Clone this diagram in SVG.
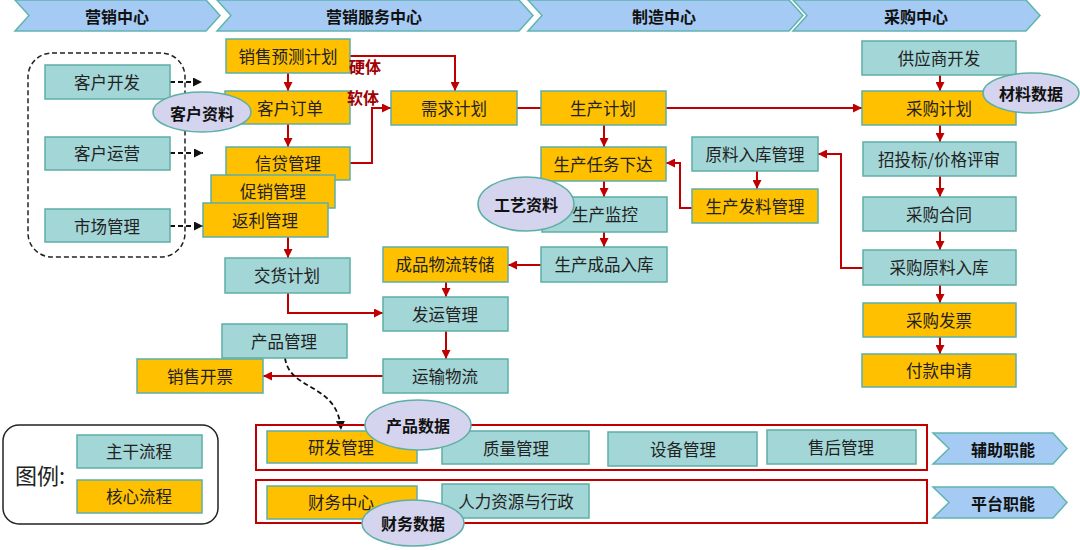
<svg xmlns="http://www.w3.org/2000/svg" width="1080" height="550" viewBox="0 0 1080 550">
<defs>
<style>
text{font-family:"Noto Sans CJK SC","Noto Sans",sans-serif;fill:#222;text-anchor:middle;dominant-baseline:central}
.t{fill:#A3D6D7;stroke:#5EAFA6;stroke-width:1.5}
.o{fill:#FFC000;stroke:#5EAFA6;stroke-width:1.5}
.lbl{font-size:16.5px}
.hd{fill:#A5CBF4;stroke:#5FB4B0;stroke-width:1.5}
.hdt{font-size:16px;font-weight:bold;fill:#111}
.el{fill:#D4D4EF;stroke:#5EAFA6;stroke-width:1.5}
.elt{font-size:16px;font-weight:bold;fill:#111}
.r{fill:none;stroke:#C00000;stroke-width:2}
.ra{fill:none;stroke:#C00000;stroke-width:2;marker-end:url(#ah)}
.da{fill:none;stroke:#111;stroke-width:1.8;stroke-dasharray:5,3;marker-end:url(#bh)}
.rb{fill:none;stroke:#C00000;stroke-width:2}
.sw{font-size:16px;font-weight:bold;fill:#A00000}
</style>
<marker id="ah" viewBox="0 0 10 10" refX="10" refY="5" markerWidth="9" markerHeight="9" markerUnits="userSpaceOnUse" orient="auto"><path d="M0,0L10,5L0,10z" fill="#C00000"/></marker>
<marker id="bh" viewBox="0 0 10 10" refX="10" refY="5" markerWidth="9" markerHeight="9" markerUnits="userSpaceOnUse" orient="auto"><path d="M0,0L10,5L0,10z" fill="#111"/></marker>
</defs>
<rect width="1080" height="550" fill="#fff"/>

<g id="headers">
<polygon class="hd" points="15,0 206,0 220,15.5 206,31 15,31 29,15.5"/>
<text class="hdt" x="117" y="15.5">营销中心</text>
<polygon class="hd" points="217,0 519,0 533,15.5 519,31 217,31 231,15.5"/>
<text class="hdt" x="374" y="15.5">营销服务中心</text>
<polygon class="hd" points="528,0 789,0 803,15.5 789,31 528,31 542,15.5"/>
<text class="hdt" x="664" y="15.5">制造中心</text>
<polygon class="hd" points="793,0 1026,0 1040,15.5 1026,31 793,31 807,15.5"/>
<text class="hdt" x="916" y="15.5">采购中心</text>
</g>

<g id="market-group"><rect x="28" y="53" width="157" height="204" rx="24" fill="none" stroke="#222" stroke-width="1.5" stroke-dasharray="5,3"/></g>

<g id="connectors">
<path class="ra" d="M288 73V91"/>
<path class="ra" d="M350 56H455V91"/>
<path class="ra" d="M350 163H372V108H391"/>
<path class="ra" d="M288 124V147"/>
<path class="ra" d="M288 237V258"/>
<path class="ra" d="M288 293V313H383"/>
<path class="ra" d="M446 282V297"/>
<path class="ra" d="M446 331V359"/>
<path class="ra" d="M383 376H263"/>
<path class="r" d="M517 108H541"/>
<path class="ra" d="M666 108H862"/>
<path class="ra" d="M604 125V147"/>
<path class="ra" d="M604 181V197"/>
<path class="ra" d="M604 232V247"/>
<path class="ra" d="M541 265H508"/>
<path class="ra" d="M757 171V189"/>
<path class="ra" d="M692 208H680V163H666"/>
<path class="ra" d="M863 268H841V154H818"/>
<path class="ra" d="M940 75V91"/>
<path class="ra" d="M940 125V142"/>
<path class="ra" d="M940 176V197"/>
<path class="ra" d="M940 231V250"/>
<path class="ra" d="M940 285V303"/>
<path class="ra" d="M940 337V354"/>
<path class="da" d="M170 82H202"/>
<path class="da" d="M170 153H203"/>
<path class="da" d="M170 226H203"/>
<path class="da" d="M285 358C290 392 338 382 341 430"/>
</g>

<g id="n-khkf"><rect class="t" x="45" y="65" width="125" height="34"/><text class="lbl" x="107" y="82">客户开发</text></g>
<g id="n-khyy"><rect class="t" x="45" y="137" width="125" height="33"/><text class="lbl" x="107" y="153">客户运营</text></g>
<g id="n-scgl"><rect class="t" x="45" y="209" width="125" height="33"/><text class="lbl" x="107" y="226">市场管理</text></g>

<g id="n-xsyc"><rect class="o" x="226" y="39" width="124" height="34"/><text class="lbl" x="288" y="56">销售预测计划</text></g>
<g id="n-khdd"><rect class="o" x="225" y="91" width="125" height="33"/><text class="lbl" x="290" y="108">客户订单</text></g>
<g id="n-xdgl"><rect class="o" x="226" y="147" width="124" height="33"/><text class="lbl" x="288" y="163">信贷管理</text></g>
<g id="n-cxgl"><rect class="o" x="211" y="175" width="124" height="33"/><text class="lbl" x="273" y="191">促销管理</text></g>
<g id="n-flgl"><rect class="o" x="203" y="203" width="125" height="34"/><text class="lbl" x="265" y="220">返利管理</text></g>
<g id="n-jhjh"><rect class="t" x="225" y="258" width="125" height="35"/><text class="lbl" x="287" y="275">交货计划</text></g>
<g id="n-cpgl"><rect class="t" x="222" y="324" width="125" height="34"/><text class="lbl" x="284" y="341">产品管理</text></g>
<g id="n-xskp"><rect class="o" x="137" y="359" width="126" height="34"/><text class="lbl" x="200" y="376">销售开票</text></g>
<g id="n-xqjh"><rect class="o" x="391" y="91" width="126" height="34"/><text class="lbl" x="454" y="108">需求计划</text></g>
<g id="n-cpwl"><rect class="o" x="383" y="247" width="125" height="35"/><text class="lbl" x="445" y="264">成品物流转储</text></g>
<g id="n-fygl"><rect class="t" x="383" y="297" width="125" height="34"/><text class="lbl" x="445" y="314">发运管理</text></g>
<g id="n-yswl"><rect class="t" x="383" y="359" width="125" height="34"/><text class="lbl" x="445" y="376">运输物流</text></g>

<g id="n-scjh"><rect class="o" x="541" y="91" width="125" height="34"/><text class="lbl" x="603" y="108">生产计划</text></g>
<g id="n-scrw"><rect class="o" x="541" y="147" width="125" height="34"/><text class="lbl" x="603" y="164">生产任务下达</text></g>
<g id="n-scjk"><rect class="t" x="542" y="197" width="125" height="35"/><text class="lbl" x="605" y="214">生产监控</text></g>
<g id="n-sccp"><rect class="t" x="541" y="247" width="126" height="35"/><text class="lbl" x="604" y="264">生产成品入库</text></g>
<g id="n-ylrk"><rect class="t" x="692" y="137" width="126" height="34"/><text class="lbl" x="755" y="154">原料入库管理</text></g>
<g id="n-scfl"><rect class="o" x="692" y="189" width="126" height="34"/><text class="lbl" x="755" y="206">生产发料管理</text></g>

<g id="n-gyskf"><rect class="t" x="862" y="41" width="154" height="34"/><text class="lbl" x="939" y="58">供应商开发</text></g>
<g id="n-cgjh"><rect class="o" x="862" y="91" width="154" height="34"/><text class="lbl" x="939" y="108">采购计划</text></g>
<g id="n-ztb"><rect class="t" x="863" y="142" width="153" height="34"/><text class="lbl" x="939" y="159">招投标/价格评审</text></g>
<g id="n-cght"><rect class="t" x="863" y="197" width="153" height="34"/><text class="lbl" x="939" y="214">采购合同</text></g>
<g id="n-cgyl"><rect class="t" x="863" y="250" width="153" height="35"/><text class="lbl" x="939" y="267">采购原料入库</text></g>
<g id="n-cgfp"><rect class="o" x="863" y="303" width="153" height="34"/><text class="lbl" x="939" y="320">采购发票</text></g>
<g id="n-fksq"><rect class="o" x="862" y="354" width="154" height="33"/><text class="lbl" x="939" y="370">付款申请</text></g>

<g id="edge-labels">
<text class="sw" x="365" y="66">硬体</text>
<text class="sw" x="363" y="97">软体</text>
</g>

<g id="support">
<rect class="rb" x="256" y="425" width="671" height="45"/>
<rect class="rb" x="256" y="480" width="671" height="43"/>
</g>
<g id="n-yfgl"><rect class="o" x="267" y="431" width="150" height="32"/><text class="lbl" x="341" y="447">研发管理</text></g>
<g id="n-zlgl"><rect class="t" x="442" y="431" width="147" height="33"/><text class="lbl" x="516" y="448">质量管理</text></g>
<g id="n-sbgl"><rect class="t" x="608" y="432" width="149" height="34"/><text class="lbl" x="683" y="449">设备管理</text></g>
<g id="n-shgl"><rect class="t" x="767" y="430" width="149" height="34"/><text class="lbl" x="841" y="447">售后管理</text></g>
<g id="n-cwzx"><rect class="o" x="267" y="486" width="150" height="33"/><text class="lbl" x="341" y="502">财务中心</text></g>
<g id="n-rlzy"><rect class="t" x="442" y="484" width="147" height="34"/><text class="lbl" x="516" y="501">人力资源与行政</text></g>

<g id="e-khzl"><ellipse class="el" cx="202" cy="112" rx="49" ry="20"/><text class="elt" x="202" y="113">客户资料</text></g>
<g id="e-gyzl"><ellipse class="el" cx="526" cy="204" rx="48" ry="27"/><text class="elt" x="526" y="204">工艺资料</text></g>
<g id="e-clsj"><ellipse class="el" cx="1031" cy="93" rx="48" ry="20"/><text class="elt" x="1031" y="93">材料数据</text></g>
<g id="e-cpsj"><ellipse class="el" cx="418" cy="425" rx="53" ry="25"/><text class="elt" x="418" y="425">产品数据</text></g>
<g id="e-cwsj"><ellipse class="el" cx="413" cy="523" rx="51" ry="23"/><text class="elt" x="413" y="523">财务数据</text></g>

<g id="func">
<polygon class="hd" points="933,433 1053,433 1067,448.5 1053,464 933,464 949,448.5"/>
<text class="hdt" x="1003" y="448.5">辅助职能</text>
<polygon class="hd" points="933,487 1053,487 1067,502.5 1053,518 933,518 949,502.5"/>
<text class="hdt" x="1003" y="502.5">平台职能</text>
</g>

<g id="legend">
<rect x="3" y="425" width="215" height="99" rx="16" fill="#fff" stroke="#222" stroke-width="1.5"/>
<text x="40" y="474" font-size="22">图例:</text>
<rect class="t" x="77" y="435" width="125" height="33"/><text class="lbl" x="139" y="451">主干流程</text>
<rect class="o" x="77" y="480" width="125" height="33"/><text class="lbl" x="139" y="496">核心流程</text>
</g>
</svg>
